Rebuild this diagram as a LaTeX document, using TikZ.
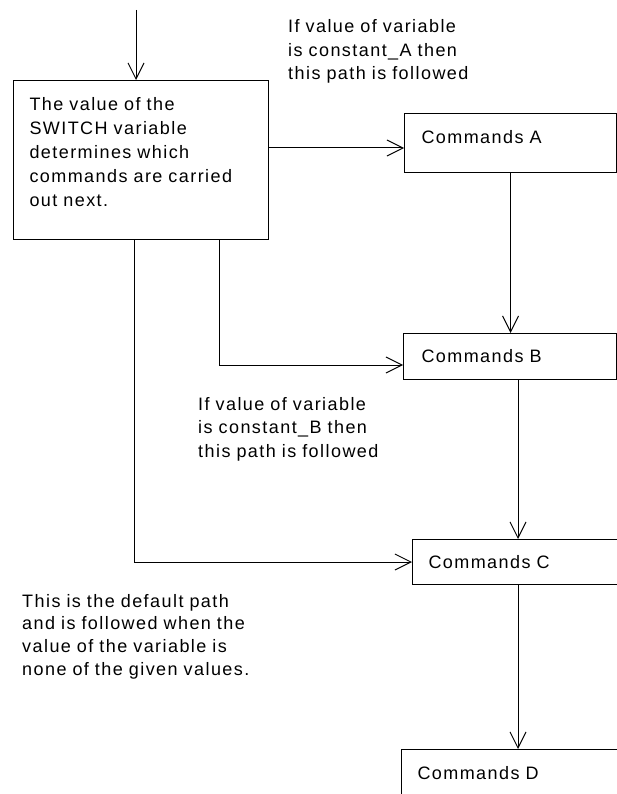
\documentclass[tikz,border=0pt]{standalone}
\usepackage{fontspec}
\setmainfont{Liberation Sans}[LetterSpace=8]
\usetikzlibrary{arrows.meta}
\begin{document}
\begin{tikzpicture}[x=1pt,y=1pt,
  every node/.style={font=\fontsize{18}{23.5}\selectfont},
  box/.style={draw, line width=1pt, anchor=north west, align=left, inner ysep=0pt},
  note/.style={anchor=base west, align=left, inner sep=0pt, text width=260pt},
  link/.style={line width=1pt, -{Straight Barb[length=16pt,width=16pt,line width=1pt]}}
]
\useasboundingbox (0,0) rectangle (617,-794);
\clip (0,0) rectangle (617,-794);

% decision box and the four command blocks
\node[box, text width=223pt, inner xsep=16pt, text height=30pt, text depth=129pt,
      font=\fontsize{18}{24}\selectfont] (switch) at (13,-80)
  {The value of the\\SWITCH variable\\determines which\\commands are carried\\out next.};
\node[box, text width=178pt, inner xsep=17pt, text height=30pt, text depth=29pt] (cmdA) at (404,-113) {Commands A};
\node[box, text width=177pt, inner xsep=18pt, text height=29pt, text depth=17pt] (cmdB) at (403,-333) {Commands B};
\node[box, text width=200pt, inner xsep=16pt, text height=29pt, text depth=16pt] (cmdC) at (412,-539) {Commands C};
\node[box, text width=200pt, inner xsep=16pt, text height=30pt, text depth=40pt] (cmdD) at (401,-749) {Commands D};

% explanatory notes
\node[note] (noteA) at (288,-33) {If value of variable\\is constant\_A then\\this path is followed};
\node[note] (noteB) at (198,-410) {If value of variable\\is constant\_B then\\this path is followed};
\node[note, font=\fontsize{18}{22.7}\selectfont] (noteDefault) at (22,-607)
  {This is the default path\\and is followed when the\\value of the variable is\\none of the given values.};

% connectors
\coordinate (entry) at (136,-10);
\coordinate (bTap) at (219,0);
\coordinate (cTap) at (134,0);
\coordinate (spine) at (518,0);
\draw[link] (entry) -- (entry |- switch.north);
\draw[link] (switch.east |- 0,-148) -- (cmdA.west |- 0,-148);
\draw[link] (bTap |- switch.south) |- (cmdB.west |- 0,-365);
\draw[link] (cTap |- switch.south) |- (cmdC.west);
\draw[link] (cmdA.south) -- (cmdA.south |- cmdB.north);
\draw[link] (spine |- cmdB.south) -- (spine |- cmdC.north);
\draw[link] (spine |- cmdC.south) -- (spine |- cmdD.north);
\end{tikzpicture}
\end{document}
